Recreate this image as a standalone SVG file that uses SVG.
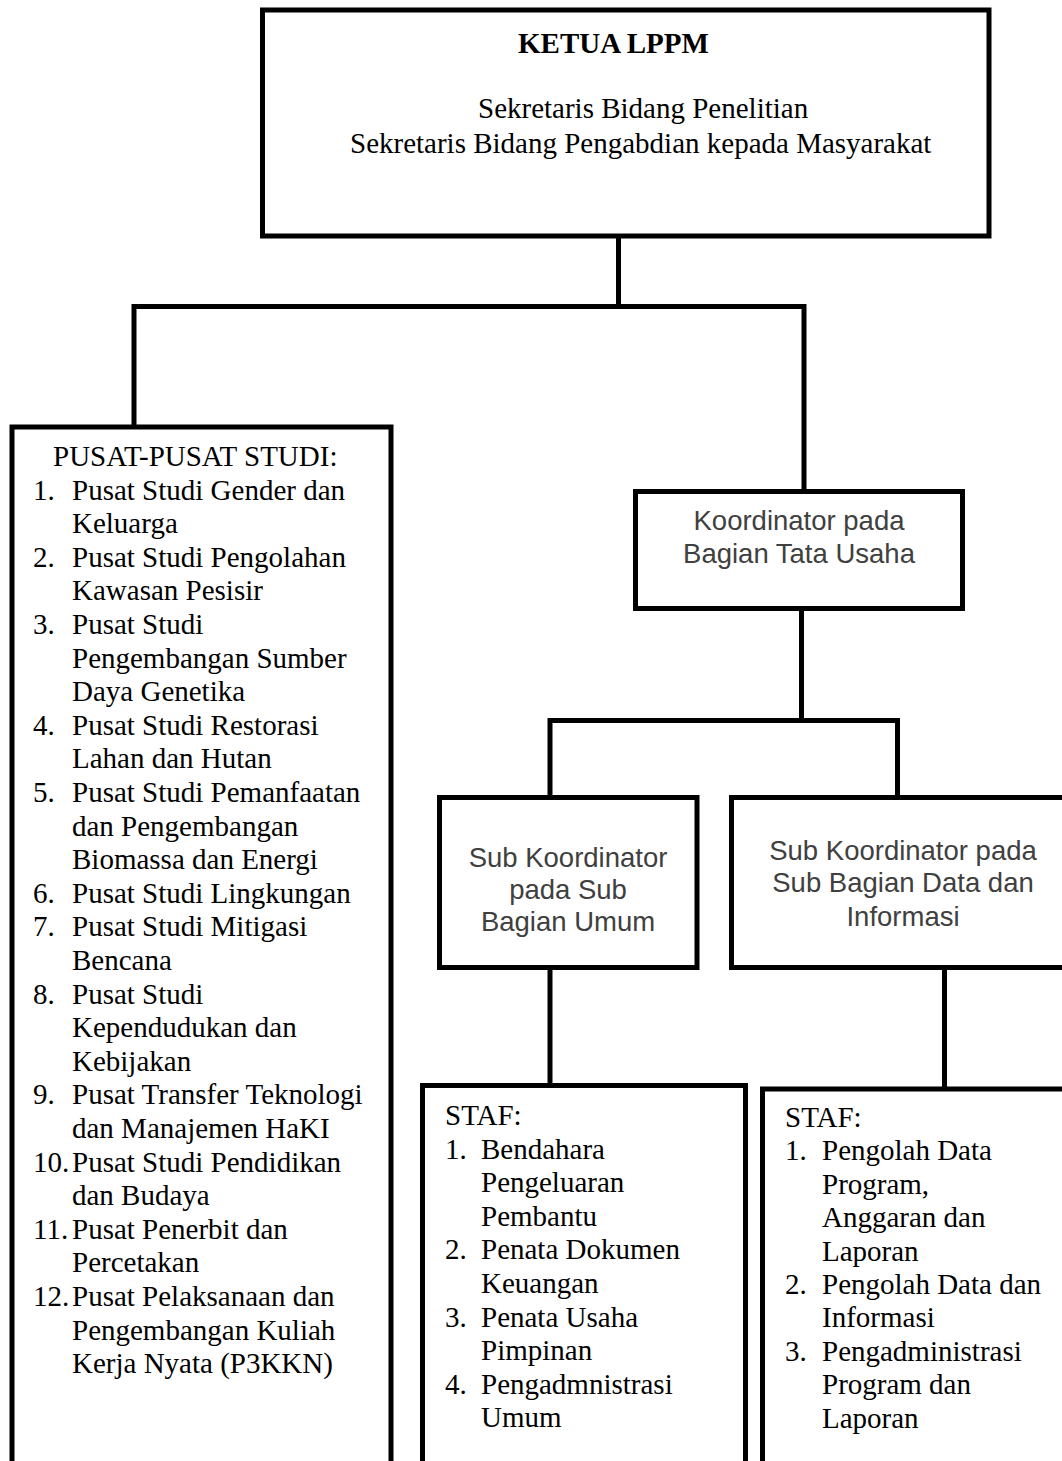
<svg xmlns="http://www.w3.org/2000/svg" width="1062" height="1461" viewBox="0 0 1062 1461">
<style>
.box{fill:#fff;stroke:#000;stroke-width:5}
.open{fill:none;stroke:#000;stroke-width:5}
.con{fill:none;stroke:#000;stroke-width:5}
.serif{font-family:"Liberation Serif","Times New Roman",serif;font-size:29px;fill:#000}
.bold{font-weight:bold}
.sans{font-family:"Liberation Sans",Arial,sans-serif;font-size:27.5px;fill:#404040;text-anchor:middle}
</style>
<rect width="1062" height="1461" fill="#fff"/>
<g id="connectors">
<polyline class="con" points="618.5,236 618.5,306.5"/>
<polyline class="con" points="134,427 134,306.5 804,306.5 804,491.5"/>
<polyline class="con" points="801.5,608.5 801.5,720.5"/>
<polyline class="con" points="550,797.5 550,720.5 897.5,720.5 897.5,808"/>
<polyline class="con" points="550,967.5 550,1085.5"/>
<polyline class="con" points="944.5,967.5 944.5,1089"/>
</g>
<g id="ketua">
<rect class="box" x="262.5" y="10" width="726.5" height="226"/>
<text class="serif bold" x="518" y="53">KETUA LPPM</text>
<text class="serif" x="478" y="118">Sekretaris Bidang Penelitian</text>
<text class="serif" x="350" y="153">Sekretaris Bidang Pengabdian kepada Masyarakat</text>
</g>
<g id="pusat-studi">
<polyline class="open" points="12,1466 12,427 391,427 391,1466"/>
<text class="serif" x="53" y="466">PUSAT-PUSAT STUDI:</text>
<text class="serif" x="33" y="499.6">1.</text><text class="serif" x="72" y="499.6">Pusat Studi Gender dan</text>
<text class="serif" x="72" y="533.2">Keluarga</text>
<text class="serif" x="33" y="566.8">2.</text><text class="serif" x="72" y="566.8">Pusat Studi Pengolahan</text>
<text class="serif" x="72" y="600.4">Kawasan Pesisir</text>
<text class="serif" x="33" y="634">3.</text><text class="serif" x="72" y="634">Pusat Studi</text>
<text class="serif" x="72" y="667.6">Pengembangan Sumber</text>
<text class="serif" x="72" y="701.2">Daya Genetika</text>
<text class="serif" x="33" y="734.8">4.</text><text class="serif" x="72" y="734.8">Pusat Studi Restorasi</text>
<text class="serif" x="72" y="768.4">Lahan dan Hutan</text>
<text class="serif" x="33" y="802">5.</text><text class="serif" x="72" y="802">Pusat Studi Pemanfaatan</text>
<text class="serif" x="72" y="835.6">dan Pengembangan</text>
<text class="serif" x="72" y="869.2">Biomassa dan Energi</text>
<text class="serif" x="33" y="902.8">6.</text><text class="serif" x="72" y="902.8">Pusat Studi Lingkungan</text>
<text class="serif" x="33" y="936.4">7.</text><text class="serif" x="72" y="936.4">Pusat Studi Mitigasi</text>
<text class="serif" x="72" y="970">Bencana</text>
<text class="serif" x="33" y="1003.6">8.</text><text class="serif" x="72" y="1003.6">Pusat Studi</text>
<text class="serif" x="72" y="1037.2">Kependudukan dan</text>
<text class="serif" x="72" y="1070.8">Kebijakan</text>
<text class="serif" x="33" y="1104.4">9.</text><text class="serif" x="72" y="1104.4">Pusat Transfer Teknologi</text>
<text class="serif" x="72" y="1138">dan Manajemen HaKI</text>
<text class="serif" x="33" y="1171.6">10.</text><text class="serif" x="72" y="1171.6">Pusat Studi Pendidikan</text>
<text class="serif" x="72" y="1205.2">dan Budaya</text>
<text class="serif" x="33" y="1238.8">11.</text><text class="serif" x="72" y="1238.8">Pusat Penerbit dan</text>
<text class="serif" x="72" y="1272.4">Percetakan</text>
<text class="serif" x="33" y="1306">12.</text><text class="serif" x="72" y="1306">Pusat Pelaksanaan dan</text>
<text class="serif" x="72" y="1339.6">Pengembangan Kuliah</text>
<text class="serif" x="72" y="1373.2">Kerja Nyata (P3KKN)</text>
</g>
<g id="koordinator">
<rect class="box" x="635.5" y="491.5" width="327" height="117"/>
<text class="sans" x="799" y="530">Koordinator pada</text>
<text class="sans" x="799" y="562.5">Bagian Tata Usaha</text>
</g>
<g id="sub-umum">
<rect class="box" x="439.5" y="797.5" width="257.5" height="170"/>
<text class="sans" x="568" y="866.5">Sub Koordinator</text>
<text class="sans" x="568" y="898.5">pada Sub</text>
<text class="sans" x="568" y="931">Bagian Umum</text>
</g>
<g id="sub-data">
<polyline class="box" points="1070,797.5 731.5,797.5 731.5,967.5 1070,967.5"/>
<text class="sans" x="903" y="859.5">Sub Koordinator pada</text>
<text class="sans" x="903" y="892">Sub Bagian Data dan</text>
<text class="sans" x="903" y="925.5">Informasi</text>
</g>
<g id="staf-umum">
<polyline class="open" points="422.5,1466 422.5,1085.5 745.5,1085.5 745.5,1466"/>
<text class="serif" x="445" y="1125">STAF:</text>
<text class="serif" x="445" y="1158.6">1.</text><text class="serif" x="481" y="1158.6">Bendahara</text>
<text class="serif" x="481" y="1192.2">Pengeluaran</text>
<text class="serif" x="481" y="1225.8">Pembantu</text>
<text class="serif" x="445" y="1259.4">2.</text><text class="serif" x="481" y="1259.4">Penata Dokumen</text>
<text class="serif" x="481" y="1293">Keuangan</text>
<text class="serif" x="445" y="1326.6">3.</text><text class="serif" x="481" y="1326.6">Penata Usaha</text>
<text class="serif" x="481" y="1360.2">Pimpinan</text>
<text class="serif" x="445" y="1393.8">4.</text><text class="serif" x="481" y="1393.8">Pengadmnistrasi</text>
<text class="serif" x="481" y="1427.4">Umum</text>
</g>
<g id="staf-data">
<polyline class="open" points="762.5,1466 762.5,1089 1070,1089"/>
<text class="serif" x="785" y="1127">STAF:</text>
<text class="serif" x="785" y="1160.4">1.</text><text class="serif" x="822" y="1160.4">Pengolah Data</text>
<text class="serif" x="822" y="1193.8">Program,</text>
<text class="serif" x="822" y="1227.2">Anggaran dan</text>
<text class="serif" x="822" y="1260.6">Laporan</text>
<text class="serif" x="785" y="1294">2.</text><text class="serif" x="822" y="1294">Pengolah Data dan</text>
<text class="serif" x="822" y="1327.4">Informasi</text>
<text class="serif" x="785" y="1360.8">3.</text><text class="serif" x="822" y="1360.8">Pengadministrasi</text>
<text class="serif" x="822" y="1394.2">Program dan</text>
<text class="serif" x="822" y="1427.6">Laporan</text>
</g>
</svg>
